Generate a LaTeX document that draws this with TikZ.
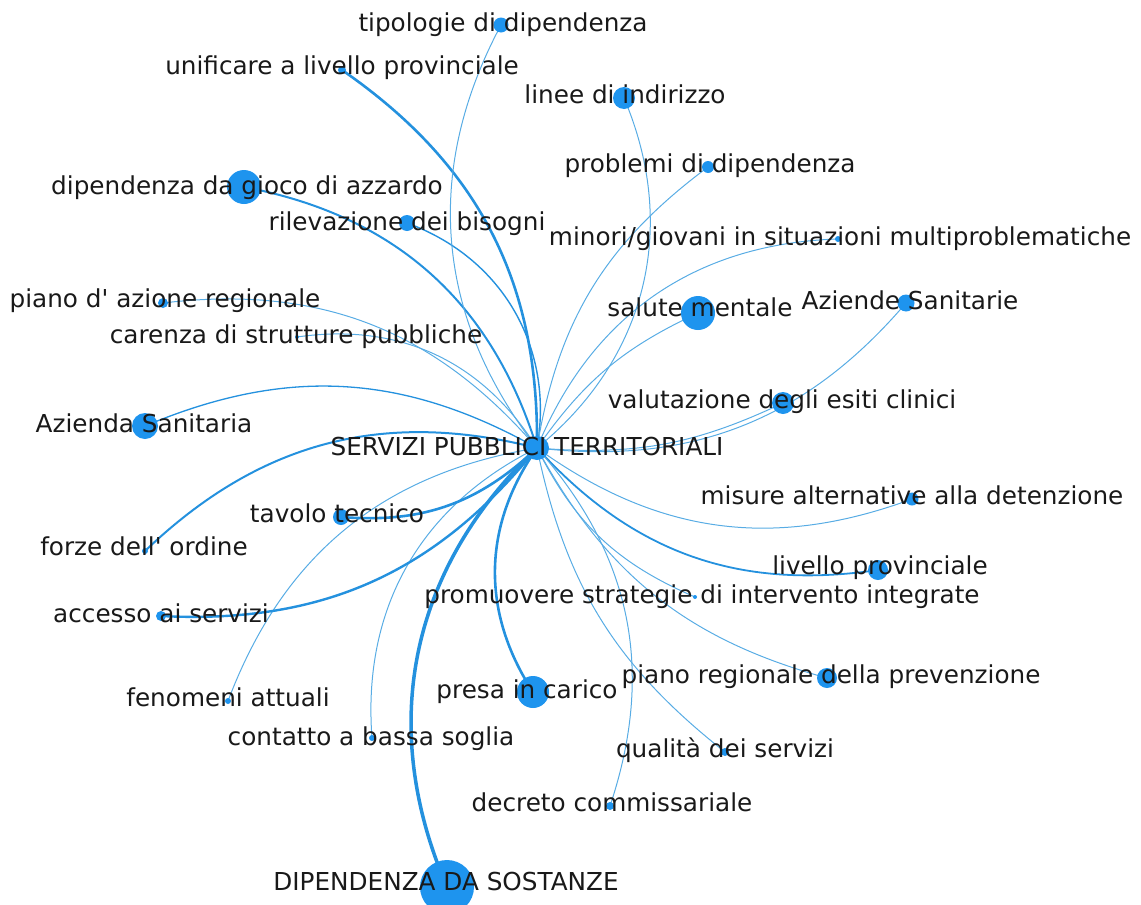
\documentclass[tikz,border=0pt]{standalone}
\usepackage{fontspec}
\newfontfamily\labelfont{DejaVu Sans}[Ligatures=TeXOff]
\pgfdeclarelayer{bg}
\pgfsetlayers{bg,main}
\definecolor{nodeblue}{RGB}{30,148,238}
\definecolor{edgeblue}{RGB}{36,145,222}
\definecolor{thinblue}{RGB}{88,172,228}
\definecolor{labelgray}{RGB}{25,25,25}
\tikzset{
  ndot/.style={circle,fill=nodeblue,inner sep=0pt,minimum size=#1},
  lbl/.style={anchor=base,inner sep=0pt,text=labelgray,font=\labelfont\fontsize{24.7}{29}\selectfont},
  link/.style={draw=edgeblue,line width=#1},
  link/.default=1.1pt,
  thin link/.style={draw=thinblue,line width=1pt}
}
\begin{document}
\begin{tikzpicture}[x=1pt,y=1pt]
\useasboundingbox (0,0) rectangle (1141,-905);
\clip (0,0) rectangle (1141,-905);
% nodes
\node[ndot=24pt] (c) at (537,-448) {};
\node[ndot=54pt] (sost) at (447,-887) {};
\node[ndot=34pt] (gioco) at (244,-187) {};
\node[ndot=16pt] (rilev) at (407,-223) {};
\node[ndot=8pt] (unif) at (342,-70) {};
\node[ndot=15pt] (tipol) at (501,-25) {};
\node[ndot=22pt] (linee) at (624,-98) {};
\node[ndot=12pt] (probl) at (708,-167) {};
\node[ndot=6pt] (minori) at (838,-239) {};
\node[ndot=34pt] (salute) at (698,-313) {};
\node[ndot=17pt] (azs) at (906,-303) {};
\node[ndot=22pt] (valut) at (783,-403) {};
\node[ndot=13pt] (misure) at (912,-499) {};
\node[ndot=20pt] (livprov) at (878,-570) {};
\node[ndot=4pt] (promu) at (695,-597) {};
\node[ndot=20pt] (pianoreg) at (827,-678) {};
\node[ndot=32pt] (presa) at (533,-692) {};
\node[ndot=8pt] (qual) at (725,-752) {};
\node[ndot=8pt] (decr) at (610,-806) {};
\node[ndot=6pt] (cont) at (372,-738) {};
\node[ndot=6pt] (fenom) at (228,-701) {};
\node[ndot=10pt] (acc) at (161,-616) {};
\node[ndot=6pt] (forze) at (145,-551) {};
\node[ndot=16pt] (tav) at (341,-517) {};
\node[ndot=26pt] (azsing) at (145,-426) {};
\node[ndot=4pt] (caren) at (297,-337) {};
\node[ndot=10pt] (pianoaz) at (163,-303) {};
% edges
\begin{pgfonlayer}{bg}
\draw[link=3.5pt] (c.center) to[bend right=35] (sost.center);
\draw[link=2.6pt] (c.center) to[bend right=28] (unif.center);
\draw[link=2.0pt] (c.center) to[bend right=31] (gioco.center);
\draw[link=1.4pt] (c.center) to[bend right=40] (rilev.center);
\draw[thin link] (c.center) to[bend left=33] (tipol.center);
\draw[thin link] (c.center) to[bend right=37] (linee.center);
\draw[thin link] (c.center) to[bend left=22] (probl.center);
\draw[thin link] (c.center) to[bend left=33] (minori.center);
\draw[thin link] (c.center) to[bend left=15] (salute.center);
\draw[thin link] (c.center) to[bend right=28] (azs.center);
\draw[thin link] (c.center) to[bend right=15] (valut.center);
\draw[thin link] (c.center) to[bend right=28] (misure.center);
\draw[link=1.8pt] (c.center) to[bend right=28] (livprov.center);
\draw[thin link] (c.center) to[bend right=20] (promu.center);
\draw[thin link] (c.center) to[bend right=23] (pianoreg.center);
\draw[link=2.6pt] (c.center) to[bend right=34] (presa.center);
\draw[thin link] (c.center) to[bend right=20] (qual.center);
\draw[thin link] (c.center) to[bend left=30] (decr.center);
\draw[thin link] (c.center) to[bend right=34] (cont.center);
\draw[thin link] (c.center) to[bend right=30] (fenom.center);
\draw[link=2.4pt] (c.center) to[bend left=27] (acc.center);
\draw[link=2.0pt] (c.center) to[bend right=29] (forze.center);
\draw[link=2.6pt] (c.center) to[bend left=24] (tav.center);
\draw[link=1.3pt] (c.center) to[bend right=26] (azsing.center);
\draw[thin link] (c.center) to[bend right=33] (caren.center);
\draw[thin link] (c.center) to[bend right=28] (pianoaz.center);
\end{pgfonlayer}
% labels
\node[lbl] (c-l) at (527,-455) {SERVIZI PUBBLICI TERRITORIALI};
\node[lbl] (sost-l) at (446,-890) {DIPENDENZA DA SOSTANZE};
\node[lbl] (gioco-l) at (247,-194) {dipendenza da gioco di azzardo};
\node[lbl] (rilev-l) at (407,-230) {rilevazione dei bisogni};
\node[lbl] (unif-l) at (342,-74) {unificare a livello provinciale};
\node[lbl] (tipol-l) at (503,-31) {tipologie di dipendenza};
\node[lbl] (linee-l) at (625,-103) {linee di indirizzo};
\node[lbl] (probl-l) at (710,-172) {problemi di dipendenza};
\node[lbl] (minori-l) at (840,-245) {minori/giovani in situazioni multiproblematiche};
\node[lbl] (salute-l) at (700,-316) {salute mentale};
\node[lbl] (azs-l) at (910,-309) {Aziende Sanitarie};
\node[lbl] (valut-l) at (782,-408) {valutazione degli esiti clinici};
\node[lbl] (misure-l) at (912,-504) {misure alternative alla detenzione};
\node[lbl] (livprov-l) at (880,-574) {livello provinciale};
\node[lbl] (promu-l) at (702,-603) {promuovere strategie di intervento integrate};
\node[lbl] (pianoreg-l) at (831,-683) {piano regionale della prevenzione};
\node[lbl] (presa-l) at (527,-698) {presa in carico};
\node[lbl] (qual-l) at (725,-757) {qualità dei servizi};
\node[lbl] (decr-l) at (612,-811) {decreto commissariale};
\node[lbl] (cont-l) at (371,-745) {contatto a bassa soglia};
\node[lbl] (fenom-l) at (228,-706) {fenomeni attuali};
\node[lbl] (acc-l) at (161,-622) {accesso ai servizi};
\node[lbl] (forze-l) at (144,-555) {forze dell' ordine};
\node[lbl] (tav-l) at (337,-522) {tavolo tecnico};
\node[lbl] (azsing-l) at (144,-432) {Azienda Sanitaria};
\node[lbl] (caren-l) at (296,-343) {carenza di strutture pubbliche};
\node[lbl] (pianoaz-l) at (165,-307) {piano d' azione regionale};
\end{tikzpicture}
\end{document}
